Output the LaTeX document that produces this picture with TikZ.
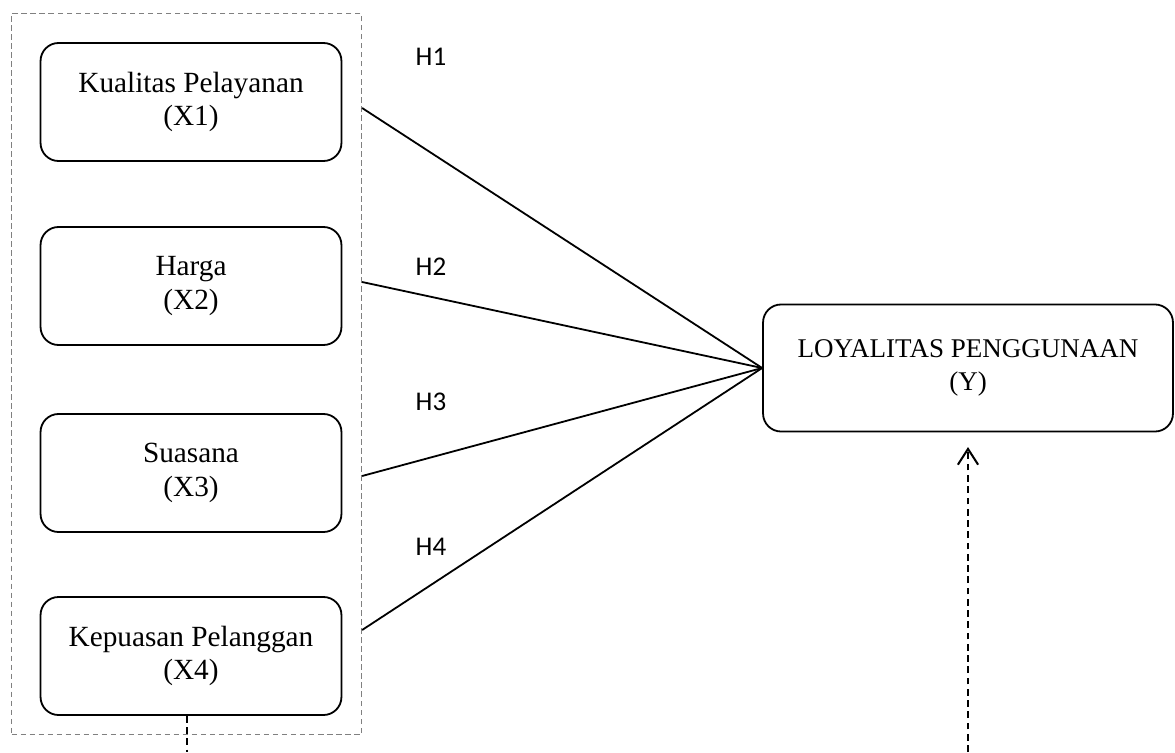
\documentclass[tikz,border=0pt]{standalone}
\usepackage{fontspec}
\setmainfont{Liberation Serif}
\newfontfamily\hfont{Carlito}
\usepackage{tikz}
\usetikzlibrary{arrows.meta}
\tikzstyle{kelompok} = [draw=gray, line width=0.5pt, dash pattern=on 2.5pt off 1.5pt, rectangle, inner sep=0pt]
\tikzstyle{variabel} = [draw, thick, rectangle, rounded corners=8pt, align=center, minimum width=133.6pt, minimum height=52.4pt, font=\fontsize{13}{15}\selectfont]
\tikzstyle{terikat} = [variabel, minimum width=182pt, minimum height=56.4pt, font=\fontsize{12}{15}\selectfont]
\tikzstyle{hipotesis} = [font=\hfont\fontsize{12}{14}\selectfont]
\tikzstyle{garis} = [line width=0.8pt]
\tikzstyle{putus} = [line width=0.9pt, dash pattern=on 3pt off 2pt]

\begin{document}
\begin{tikzpicture}[x=0.444pt, y=-0.444pt]
	\useasboundingbox (0,0) rectangle (1175,752);
	% kotak variabel bebas
	\node[kelompok, minimum width=155.4pt, minimum height=320.1pt, anchor=north west](grup) at (11,13) {};
	\node[variabel](x1) at (191,102) {Kualitas Pelayanan\\(X1)};
	\node[variabel](x2) at (191,286) {Harga\\(X2)};
	\node[variabel](x3) at (191,473) {Suasana\\(X3)};
	\node[variabel](x4) at (191,656) {Kepuasan Pelanggan\\(X4)};
	% variabel terikat
	\node[terikat](y) at (968,368) {LOYALITAS PENGGUNAAN\\(Y)};
	% hipotesis
	\node[hipotesis](h1) at (431,57) {H1};
	\node[hipotesis](h2) at (431,267) {H2};
	\node[hipotesis](h3) at (431,402) {H3};
	\node[hipotesis](h4) at (431,547) {H4};
	\draw[garis] (grup.east |- 0,108) -- (y.west);
	\draw[garis] (grup.east |- 0,282) -- (y.west);
	\draw[garis] (grup.east |- 0,476) -- (y.west);
	\draw[garis] (grup.east |- 0,630) -- (y.west);
	% garis putus-putus
	\coordinate (bawahkiri) at (187,752);
	\coordinate (bawahkanan) at (y.south |- 0,752);
	\draw[putus] (x4.south -| bawahkiri) -- (bawahkiri);
	\draw[putus, -{Straight Barb[length=7pt, width=9pt, line width=0.9pt]}, shorten >=6.5pt] (bawahkanan) -- (y.south);
\end{tikzpicture}
\end{document}
